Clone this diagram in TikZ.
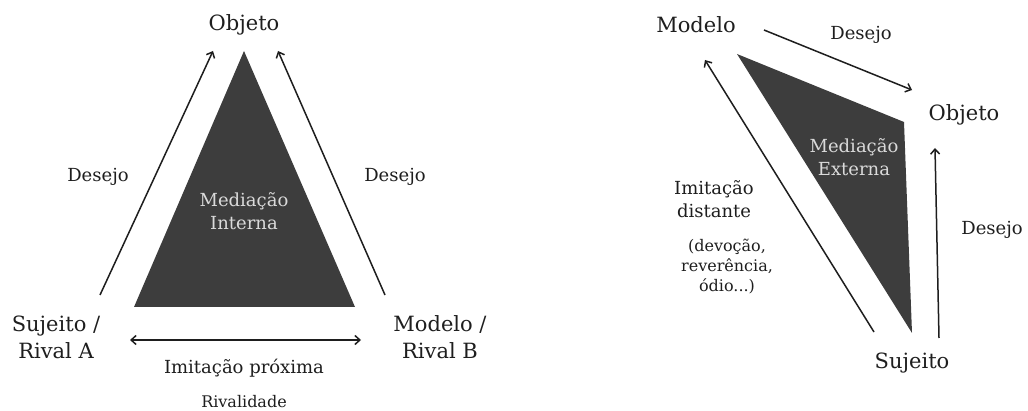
\documentclass[tikz,border=0pt]{standalone}
\usepackage{fontspec}
\setmainfont{DejaVu Serif}
\usetikzlibrary{arrows.meta}
\definecolor{darkfill}{HTML}{3D3D3D}
\definecolor{softtext}{HTML}{DADADA}
\definecolor{ink}{HTML}{1E1E1E}

\begin{document}
\begin{tikzpicture}[x=1pt, y=-1pt, text=ink,
  big/.style={font=\fontsize{21}{27}\selectfont, align=center},
  mid/.style={font=\fontsize{18}{23}\selectfont, align=center},
  small/.style={font=\fontsize{16}{20}\selectfont, align=center},
  arr/.style={-{Straight Barb[length=5pt, width=9pt]}, line width=1.5pt, draw=ink}]
  \useasboundingbox (0,0) rectangle (1028,411);

  % mediacao interna
  \fill[darkfill] (244,51) -- (134,307) -- (355,307) -- cycle;
  \node[mid, text=softtext] (medint) at (244,211) {Mediação\\Interna};

  \node[big] (obj1) at (244,25) {Objeto};
  \node[big] (suj1) at (56,337) {Sujeito /\\Rival A};
  \node[big] (mod1) at (440,337) {Modelo /\\Rival B};
  \node[mid] (des1) at (98,177) {Desejo};
  \node[mid] (des2) at (395,177) {Desejo};
  \node[mid] (prox) at (244,368) {Imitação próxima};
  \node[small] (riv) at (244,402) {Rivalidade};

  \coordinate (s1) at (100,295);
  \coordinate (o1a) at (213,51);
  \coordinate (m1) at (385,295);
  \coordinate (o1b) at (278,51);
  \coordinate (pl) at (130,340);
  \coordinate (pr) at (361,340);
  \draw[arr] (s1) -- (o1a);
  \draw[arr] (m1) -- (o1b);
  \draw[arr, {Straight Barb[length=5pt, width=9pt]}-{Straight Barb[length=5pt, width=9pt]}] (pl) -- (pr);

  % mediacao externa
  \fill[darkfill] (737,54) -- (904,122) -- (912,333) -- cycle;
  \node[mid, text=softtext] (medext) at (854,157) {Mediação\\Externa};

  \node[big] (mod2) at (696,25) {Modelo};
  \node[big] (obj2) at (964,115) {Objeto};
  \node[big] (suj2) at (912,363) {Sujeito};
  \node[mid] (des3) at (861,35) {Desejo};
  \node[mid] (des4) at (992,230) {Desejo};
  \node[mid] (dist) at (714,199) {Imitação\\distante};
  \node[small] (devo) at (727,267) {(devoção,\\reverência,\\ódio...)};

  \coordinate (m2) at (764,30);
  \coordinate (o2a) at (912,90);
  \coordinate (s2a) at (874,332);
  \coordinate (m2b) at (705,60);
  \coordinate (s2b) at (939,338);
  \coordinate (o2b) at (935,148);
  \draw[arr] (m2) -- (o2a);
  \draw[arr] (s2a) -- (m2b);
  \draw[arr] (s2b) -- (o2b);
\end{tikzpicture}
\end{document}
